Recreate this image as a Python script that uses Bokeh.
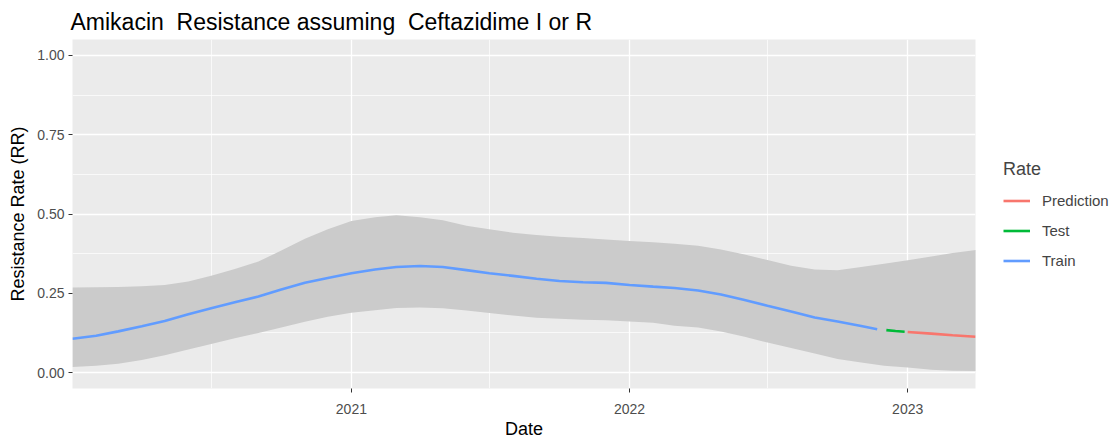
import pandas as pd
from bokeh.plotting import figure
from bokeh.models import (ColumnDataSource, Range1d, FixedTicker, DatetimeTickFormatter,
                          Legend, LegendItem, NumeralTickFormatter)
from bokeh.embed import file_html
from bokeh.resources import INLINE

# ---------------- data ----------------
band_dates = pd.date_range("2020-01-01", "2023-04-01", freq="MS")
band_upper = [0.268, 0.269, 0.270, 0.272, 0.276, 0.287, 0.305, 0.327, 0.350, 0.385,
              0.422, 0.452, 0.478, 0.490, 0.496, 0.490, 0.480, 0.463, 0.452, 0.441,
              0.434, 0.428, 0.424, 0.420, 0.415, 0.411, 0.406, 0.400, 0.388, 0.372,
              0.355, 0.337, 0.325, 0.323, 0.333, 0.343, 0.354, 0.366, 0.377, 0.387]
band_lower = [0.018, 0.022, 0.028, 0.040, 0.055, 0.073, 0.090, 0.108, 0.125, 0.142,
              0.160, 0.176, 0.189, 0.197, 0.204, 0.205, 0.203, 0.196, 0.188, 0.180,
              0.173, 0.170, 0.167, 0.165, 0.161, 0.157, 0.148, 0.142, 0.130, 0.113,
              0.095, 0.078, 0.060, 0.043, 0.032, 0.022, 0.016, 0.009, 0.006, 0.005]

train_dates = list(pd.date_range("2020-01-01", "2022-11-01", freq="MS")) + [pd.Timestamp("2022-11-22")]
train_vals = [0.107, 0.116, 0.130, 0.146, 0.163, 0.184, 0.203, 0.222, 0.240, 0.262,
              0.283, 0.298, 0.313, 0.325, 0.333, 0.336, 0.333, 0.323, 0.313, 0.305,
              0.296, 0.289, 0.285, 0.283, 0.276, 0.271, 0.267, 0.259, 0.246, 0.229,
              0.211, 0.193, 0.174, 0.161, 0.147, 0.137]

test_dates = pd.to_datetime(["2022-12-04", "2022-12-16", "2022-12-28"])
test_vals = [0.134, 0.131, 0.129]

pred_dates = pd.to_datetime(["2023-01-01", "2023-02-01", "2023-03-01", "2023-03-31"])
pred_vals = [0.128, 0.123, 0.118, 0.113]

major_years = ["2021-01-01", "2022-01-01", "2023-01-01"]
minor_years = ["2020-07-01", "2021-07-01", "2022-07-01"]
y_ticks = [0.0, 0.25, 0.5, 0.75, 1.0]
y_minor = [0.125, 0.375, 0.625, 0.875]

series_names = ["Prediction", "Test", "Train"]
series_colors = ["#F8766D", "#00BA38", "#619CFF"]

TITLE = "Amikacin\u00a0 Resistance assuming\u00a0 Ceftazidime I or R"
FONT = "Liberation Sans"

# ---------------- figure ----------------
p = figure(frame_width=903, frame_height=349, output_backend="svg", toolbar_location=None,
           x_axis_type="datetime",
           x_range=Range1d(pd.Timestamp("2020-01-01"), pd.Timestamp("2023-03-31")),
           y_range=Range1d(-0.05, 1.05),
           min_border_left=72, min_border_right=134, min_border_top=39, min_border_bottom=10,
           title=TITLE)

p.title.text_font = FONT
p.title.text_font_size = "23px"
p.title.text_font_style = "normal"
p.title.text_color = "black"
p.title.offset = -2
p.title.standoff = 10

p.background_fill_color = "#EBEBEB"
p.border_fill_color = "white"
p.outline_line_color = None

band_src = ColumnDataSource(dict(x=band_dates, lo=band_lower, hi=band_upper))
p.varea(x="x", y1="lo", y2="hi", source=band_src, fill_color="#CBCBCB", fill_alpha=1.0)

r_pred = p.line(pred_dates, pred_vals, line_color=series_colors[0], line_width=2.6)
r_test = p.line(test_dates, test_vals, line_color=series_colors[1], line_width=2.6)
r_train = p.line(train_dates, train_vals, line_color=series_colors[2], line_width=2.6)

# axes
to_ms = lambda s: pd.Timestamp(s).value // 10**6
p.xaxis.ticker = FixedTicker(ticks=[to_ms(d) for d in major_years],
                             minor_ticks=[to_ms(d) for d in minor_years])
p.xaxis.formatter = DatetimeTickFormatter(years="%Y", months="%Y", days="%Y",
                                          hours="%Y", minutes="%Y", seconds="%Y",
                                          milliseconds="%Y")
p.yaxis.ticker = FixedTicker(ticks=y_ticks, minor_ticks=y_minor)
p.yaxis.formatter = NumeralTickFormatter(format="0.00")

for ax in (p.xaxis[0], p.yaxis[0]):
    ax.axis_line_color = None
    ax.major_tick_line_color = "#333333"
    ax.major_tick_line_width = 1
    ax.major_tick_out = 4
    ax.major_tick_in = 0
    ax.minor_tick_line_color = None
    ax.major_label_text_font = FONT
    ax.major_label_text_font_size = "14px"
    ax.major_label_text_color = "#4D4D4D"
    ax.axis_label_text_font = FONT
    ax.axis_label_text_font_size = "18px"
    ax.axis_label_text_font_style = "normal"
    ax.axis_label_text_color = "black"

p.xaxis.axis_label = "Date"
p.yaxis.axis_label = "Resistance Rate (RR)"
p.xaxis.major_label_standoff = 11
p.xaxis.axis_label_standoff = 2
p.yaxis.major_label_standoff = 4
p.yaxis.axis_label_standoff = 6

for g in (p.xgrid[0], p.ygrid[0]):
    g.grid_line_color = "white"
    g.grid_line_width = 1.3
    g.minor_grid_line_color = "white"
    g.minor_grid_line_width = 0.7

legend = Legend(items=[LegendItem(label=series_names[0], renderers=[r_pred]),
                       LegendItem(label=series_names[1], renderers=[r_test]),
                       LegendItem(label=series_names[2], renderers=[r_train])],
                location=(28, 114), title="Rate")
legend.title_text_font = FONT
legend.title_text_font_size = "18px"
legend.title_text_font_style = "normal"
legend.title_standoff = 7
legend.label_text_font = FONT
legend.label_text_font_size = "15px"
legend.glyph_width = 27
legend.glyph_height = 27
legend.label_standoff = 12
legend.spacing = 3
legend.padding = 0
legend.margin = 0
legend.border_line_color = None
legend.background_fill_alpha = 0
p.add_layout(legend, "right")

open("out.html", "w").write(file_html(p, INLINE))
